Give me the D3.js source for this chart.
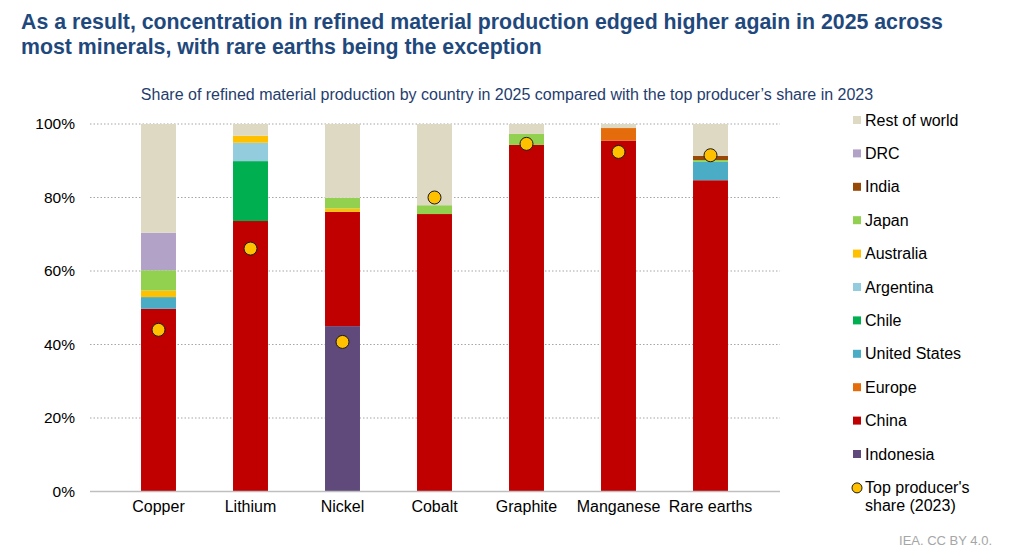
<!DOCTYPE html>
<html>
<head>
<meta charset="utf-8">
<script src="https://cdn.jsdelivr.net/npm/d3@7"></script>
<style>
    body { margin: 0; background: #fff; }
    svg { display: block; font-family: "Liberation Sans", Arial, sans-serif; }
</style>
</head>
<body>
<div class="svg-container"></div>
<script>
// data (shares in %, 2025)
const minerals = ['Copper', 'Lithium', 'Nickel', 'Cobalt', 'Graphite', 'Manganese', 'Rare earths'];
const indonesia = [0, 0, 45.0, 0, 0, 0, 0];
const china = [49.7, 73.6, 31.1, 75.5, 94.3, 95.5, 84.7];
const europe = [0, 0, 0, 0, 0, 3.4, 0];
const united_states = [3.2, 0, 0, 0, 0, 0, 5.0];
const chile = [0, 16.3, 0, 0, 0, 0, 0];
const argentina = [0, 5.0, 0, 0, 0, 0, 0];
const australia = [1.8, 1.9, 0.9, 0, 0, 0, 0];
const japan = [5.5, 0, 2.9, 2.4, 3.0, 0, 0.5];
const india = [0, 0, 0, 0, 0, 0, 1.1];
const drc = [10.2, 0, 0, 0, 0, 0, 0];
const rest_of_world = [29.6, 3.2, 20.1, 22.1, 2.7, 1.1, 8.7];
const top_share_2023 = [44.0, 66.1, 40.7, 80.0, 94.6, 92.4, 91.5];
const y_ticks = [0, 20, 40, 60, 80, 100];

// stacking order, bottom to top
const series = [
    {name: 'Indonesia', values: indonesia, color: '#604a7b'},
    {name: 'China', values: china, color: '#c00000'},
    {name: 'Europe', values: europe, color: '#e46c0a'},
    {name: 'United States', values: united_states, color: '#4bacc6'},
    {name: 'Chile', values: chile, color: '#00b050'},
    {name: 'Argentina', values: argentina, color: '#93cddd'},
    {name: 'Australia', values: australia, color: '#ffc000'},
    {name: 'Japan', values: japan, color: '#92d050'},
    {name: 'India', values: india, color: '#984807'},
    {name: 'DRC', values: drc, color: '#b3a2c7'},
    {name: 'Rest of world', values: rest_of_world, color: '#ddd9c3'}
];

const W = 1016, H = 553;
const svg = d3.select('.svg-container').append('svg')
    .attr('width', W).attr('height', H);

// titles
const title = svg.append('text')
    .attr('x', 21).attr('y', 29)
    .style('font-size', '21.3px').style('font-weight', 'bold').style('fill', '#1f497d');
title.append('tspan').attr('x', 21).attr('dy', 0)
    .text('As a result, concentration in refined material production edged higher again in 2025 across');
title.append('tspan').attr('x', 21).attr('dy', 25)
    .text('most minerals, with rare earths being the exception');

svg.append('text')
    .attr('x', 507).attr('y', 100)
    .attr('text-anchor', 'middle')
    .style('font-size', '16px').style('fill', '#1f3d6e')
    .text('Share of refined material production by country in 2025 compared with the top producer\u2019s share in 2023');

// scales
const xScale = d3.scaleBand().domain(minerals).range([112.5, 756.5]).paddingInner(0.62).paddingOuter(0.31);
const yScale = d3.scaleLinear().domain([0, 100]).range([491.5, 124]);

// gridlines
svg.append('g').selectAll('line')
    .data(y_ticks.filter(d => d > 0)).enter().append('line')
    .attr('x1', 90).attr('x2', 780)
    .attr('y1', d => yScale(d)).attr('y2', d => yScale(d))
    .attr('stroke', '#a6a6a6').attr('stroke-width', 1.2)
    .attr('stroke-dasharray', '1.5,2');

// y axis labels
const yAxis = svg.append('g')
    .attr('transform', 'translate(90,0)')
    .call(d3.axisLeft(yScale).tickValues(y_ticks).tickFormat(d => d + '%').tickSize(0).tickPadding(15));
yAxis.select('.domain').remove();
yAxis.selectAll('text').style('font-size', '15.5px').style('fill', '#000')
    .style('font-family', '"Liberation Sans", Arial, sans-serif');

// stacked bars
const stacked = [];
minerals.forEach(function (m, i) {
    let y0 = 0;
    series.forEach(function (s) {
        const v = s.values[i];
        if (v > 0) {
            stacked.push({mineral: m, y0: y0, y1: y0 + v, color: s.color});
            y0 += v;
        }
    });
});

svg.append('g').selectAll('rect')
    .data(stacked).enter().append('rect')
    .attr('x', d => xScale(d.mineral))
    .attr('width', xScale.bandwidth())
    .attr('y', d => yScale(d.y1))
    .attr('height', d => yScale(d.y0) - yScale(d.y1))
    .attr('fill', d => d.color);

// x axis
svg.append('line')
    .attr('x1', 90).attr('x2', 780)
    .attr('y1', yScale(0)).attr('y2', yScale(0))
    .attr('stroke', '#bfbfbf').attr('stroke-width', 1.5);

svg.append('g').selectAll('text')
    .data(minerals).enter().append('text')
    .attr('x', d => xScale(d) + xScale.bandwidth() / 2)
    .attr('y', 512)
    .attr('text-anchor', 'middle')
    .style('font-size', '16px').style('fill', '#000')
    .text(d => d);

// top producer's share (2023)
svg.append('g').selectAll('circle')
    .data(minerals).enter().append('circle')
    .attr('cx', d => xScale(d) + xScale.bandwidth() / 2)
    .attr('cy', (d, i) => yScale(top_share_2023[i]))
    .attr('r', 6.5)
    .attr('fill', '#ffc000')
    .attr('stroke', '#1a1a1a').attr('stroke-width', 1);

// legend
const legend_items = series.slice().reverse();
const lg = svg.append('g').attr('class', 'legend');
const row = 33.4;
legend_items.forEach(function (s, i) {
    const cy = 120 + i * row;
    lg.append('rect')
        .attr('x', 853).attr('y', cy - 4).attr('width', 8).attr('height', 8)
        .attr('fill', s.color);
    lg.append('text')
        .attr('x', 865).attr('y', cy + 5.5)
        .style('font-size', '16px').style('fill', '#000')
        .text(s.name);
});
const dot_y = 120 + legend_items.length * row;
lg.append('circle')
    .attr('cx', 857).attr('cy', dot_y + 0.5).attr('r', 5)
    .attr('fill', '#ffc000').attr('stroke', '#1a1a1a').attr('stroke-width', 1);
const dl = lg.append('text').attr('x', 865).attr('y', dot_y + 5.5)
    .style('font-size', '16px').style('fill', '#000');
dl.append('tspan').attr('x', 865).attr('dy', 0).text("Top producer's");
dl.append('tspan').attr('x', 865).attr('dy', 18).text('share (2023)');

// source
svg.append('text')
    .attr('x', 992).attr('y', 545)
    .attr('text-anchor', 'end')
    .style('font-size', '13px').style('fill', '#a6a6a6')
    .text('IEA. CC BY 4.0.');
</script>
</body>
</html>
